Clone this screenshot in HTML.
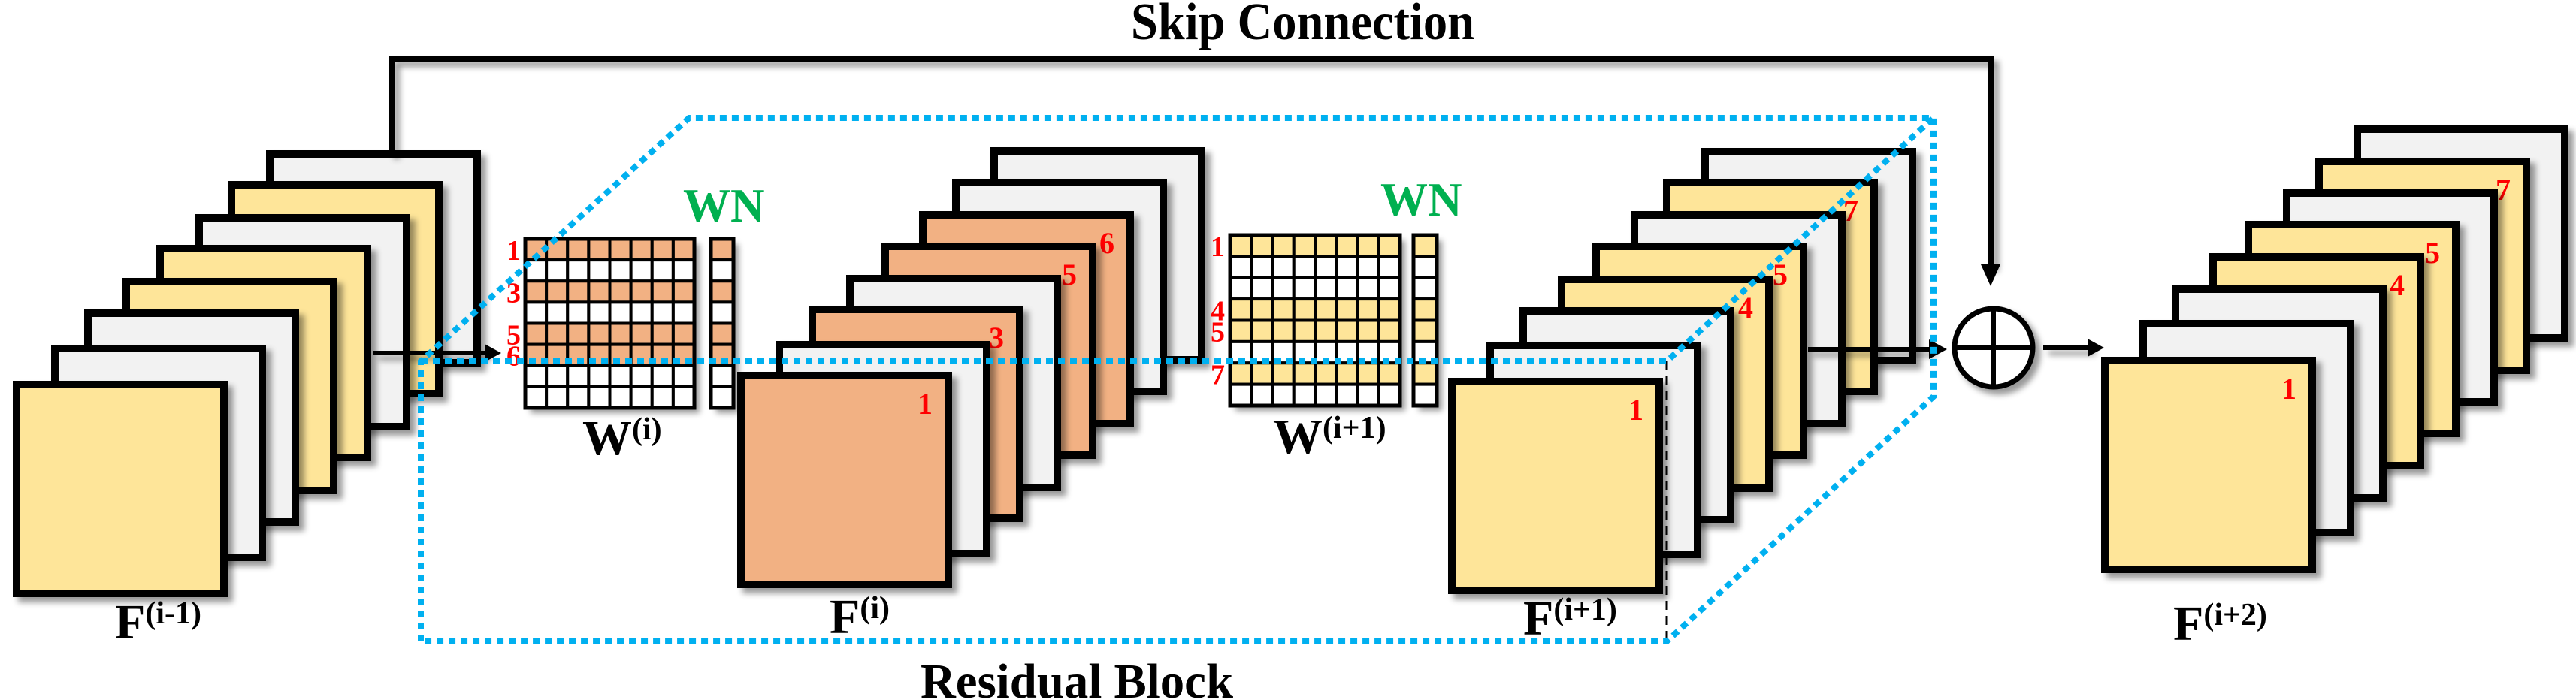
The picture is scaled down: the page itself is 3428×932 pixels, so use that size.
<!DOCTYPE html>
<html><head><meta charset="utf-8"><style>
html,body{margin:0;padding:0;background:#fff;}
svg{display:block;}
text{font-family:"Liberation Serif","DejaVu Serif",serif;font-weight:bold;}
</style></head><body>
<svg width="3428" height="932" viewBox="0 0 3428 932" xmlns="http://www.w3.org/2000/svg">
<defs>
<filter id="sh" filterUnits="userSpaceOnUse" x="0" y="0" width="3428" height="932">
<feDropShadow dx="7" dy="7" stdDeviation="4" flood-color="#000" flood-opacity="0.4"/>
</filter>
</defs>
<g id="content"></g>
<script>
(function(){
var NS="http://www.w3.org/2000/svg", g=document.getElementById('content');
var FF='"Liberation Serif","DejaVu Serif",serif';
function el(n,a,t){var e=document.createElementNS(NS,n);for(var k in a)e.setAttribute(k,a[k]);if(n=='text'){e.setAttribute('font-family',FF);e.setAttribute('font-weight','bold');}if(t!=null)e.textContent=t;g.appendChild(e);return e;}
var C={Y:'#fee599',G:'#f2f2f2',O:'#f2b183',W:'#ffffff'};
function stack(pos,cols,nums){
  for(var i=pos.length-1;i>=0;i--){
    var x=pos[i][0],y=pos[i][1];
    el('rect',{x:x+5,y:y+5,width:276,height:278,fill:C[cols[i]],stroke:'#000','stroke-width':10,filter:'url(#sh)'});
    if(nums[i]) el('text',{x:x+260,y:y+56,'text-anchor':'end','font-size':40,fill:'#ff0000'},nums[i]);
  }
}
stack([[17,507],[68,459],[112,412],[163,370],[208,326],[260,285],[303,241],[354,200]],['Y','G','G','Y','Y','G','Y','G'],{});
stack([[981,495],[1032,454],[1076,407],[1126,366],[1173,323],[1223,281],[1267,238],[1318,196]],['O','G','O','G','O','O','G','G'],{0:'1',2:'3',4:'5',5:'6'});
stack([[1927,503],[1978,455],[2022,409],[2073,367],[2119,323],[2170,281],[2213,238],[2264,197]],['Y','G','G','Y','Y','G','Y','G'],{0:'1',3:'4',4:'5',6:'7'});
stack([[2796,475],[2847,426],[2890,380],[2940,337],[2987,294],[3038,252],[3081,210],[3132,167]],['Y','G','G','Y','Y','G','Y','G'],{0:'1',3:'4',4:'5',6:'7'});
function matrix(x,y,w,h,vx,vw,rows,col,nx){
  var cw=w/8,ch=h/8;
  el('rect',{x:x,y:y,width:w,height:h,fill:'#fff',filter:'url(#sh)'});
  el('rect',{x:vx,y:y,width:vw,height:h,fill:'#fff',filter:'url(#sh)'});
  for(var r=0;r<8;r++){
    var f=rows[r]?col:'#fff';
    for(var c=0;c<8;c++) el('rect',{x:x+c*cw,y:y+r*ch,width:cw,height:ch,fill:f,stroke:'#000','stroke-width':4});
    el('rect',{x:vx,y:y+r*ch,width:vw,height:ch,fill:f,stroke:'#000','stroke-width':4});
    if(rows[r]) el('text',{x:nx,y:y+r*ch+ch/2+14,'text-anchor':'end','font-size':38,fill:'#ff0000'},rows[r]);
  }
  el('rect',{x:x,y:y,width:w,height:h,fill:'none',stroke:'#000','stroke-width':5});
  el('rect',{x:vx,y:y,width:vw,height:h,fill:'none',stroke:'#000','stroke-width':5});
}
matrix(699,318,225,225,946,30,{0:'1',2:'3',4:'5',5:'6'},C.O,693);
matrix(1637,313,226,227,1881,31,{0:'1',3:'4',4:'5',6:'7'},C.Y,1630);
el('text',{x:909,y:295,'font-size':63,fill:'#00b050'},'WN');
el('text',{x:1837,y:287,'font-size':63,fill:'#00b050'},'WN');
// arrows
el('path',{d:'M497,470 H648',stroke:'#000','stroke-width':6,fill:'none',filter:'url(#sh)'});
el('polygon',{points:'645,458 667,470 645,482',fill:'#000'});
el('path',{d:'M521,205 V78 H2649 V355',stroke:'#000','stroke-width':8,fill:'none',filter:'url(#sh)'});
el('polygon',{points:'2636,352 2662,352 2649,381',fill:'#000'});
el('path',{d:'M2406,465 H2570',stroke:'#000','stroke-width':6,fill:'none',filter:'url(#sh)'});
el('polygon',{points:'2567,452 2591,465 2567,478',fill:'#000'});
el('circle',{cx:2653,cy:463,r:52,fill:'#fff',stroke:'#000','stroke-width':7,filter:'url(#sh)'});
el('path',{d:'M2601,463 H2705 M2653,411 V515',stroke:'#000','stroke-width':6});
el('path',{d:'M2719,463 H2782',stroke:'#000','stroke-width':6,fill:'none',filter:'url(#sh)'});
el('polygon',{points:'2778,451 2800,463 2778,475',fill:'#000'});
// dashed black
el('path',{d:'M2218,480 V854',stroke:'#000','stroke-width':3,'stroke-dasharray':'12 8',fill:'none'});
// blue dotted
var bd={stroke:'#00b0f0','stroke-width':8,'stroke-dasharray':'9 7',fill:'none'};
function bl(d){var a={d:d};for(var k in bd)a[k]=bd[k];el('path',a);}
bl('M560,854 V481 L917,157 H2573 V528 L2218,854 Z');
bl('M560,481 H2218 L2573,157');
// labels
function lab(x,y,L,s){var t=el('text',{x:x,y:y,'font-size':66,fill:'#000'},null);
  var a=document.createElementNS(NS,'tspan');a.textContent=L;t.appendChild(a);
  var b=document.createElementNS(NS,'tspan');b.setAttribute('font-size','42');b.setAttribute('dy','-20');b.textContent=s;t.appendChild(b);}
lab(153,850,'F','(i-1)');lab(1104,843,'F','(i)');lab(2027,845,'F','(i+1)');lab(2892,852,'F','(i+2)');
lab(775,605,'W','(i)');lab(1694,603,'W','(i+1)');
el('text',{x:1505,y:52,'font-size':70,textLength:457,lengthAdjust:'spacingAndGlyphs',fill:'#000'},'Skip Connection');
el('text',{x:1225,y:929,'font-size':66,textLength:416,lengthAdjust:'spacingAndGlyphs',fill:'#000'},'Residual Block');
})();
</script>
</svg>
</body></html>
